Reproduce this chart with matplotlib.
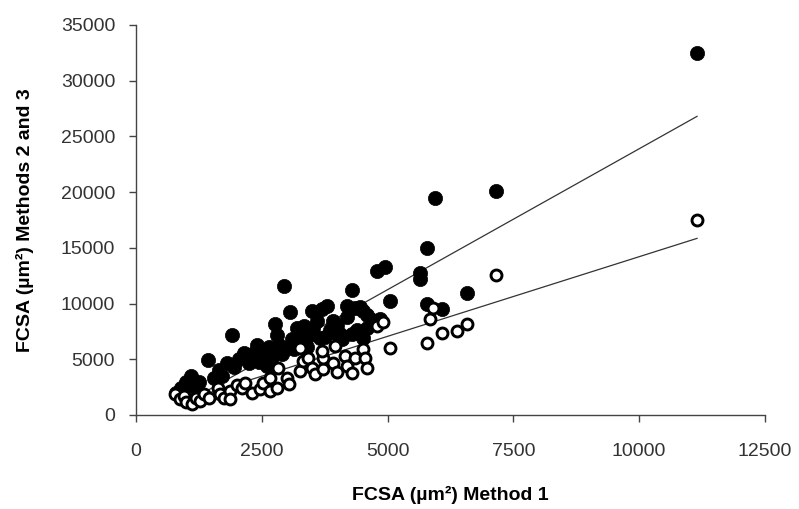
import matplotlib
matplotlib.use("Agg")
import matplotlib.pyplot as plt

# method 1 FCSA vs methods 2 (filled) and 3 (open)
m2_x = [800, 900, 1000, 1100, 1150, 1250, 1425, 1550, 1650, 1800, 1914, 1950,
        2050, 2150, 2250, 2300, 2400, 2450, 2550, 2650, 2700, 2760, 2800, 2850,
        2900, 2950, 3060, 3100, 3190, 3250, 3330, 3350, 3450, 3490, 3520, 3600,
        3650, 3700, 3790, 3850, 3920, 3960, 4000, 4100, 4190, 4200, 4290, 4290,
        4350, 4450, 4520, 4520, 4590, 4600, 4700, 4780, 4850, 4950, 5050, 5650,
        5650, 5780, 5780, 5940, 6075, 6570, 7150, 11150,
        2600, 3000, 3150, 3400, 3750, 4050, 4400, 2350, 1700]
m2_y = [2000, 2400, 3000, 3500, 2500, 3000, 4900, 3300, 4000, 4700, 7200, 4300,
        5000, 5600, 4700, 5300, 6300, 4800, 5500, 6100, 5200, 8150, 7200, 6300,
        5500, 11600, 9200, 6800, 7850, 7400, 8000, 6600, 7200, 9350, 7850, 8400,
        6900, 9500, 9800, 7600, 8450, 7400, 8100, 6800, 9800, 8800, 11200, 7250,
        9600, 9650, 6950, 9350, 9000, 7800, 8500, 12900, 8600, 13300, 10200, 12700,
        12200, 15000, 9950, 19500, 9500, 10950, 20100, 32500,
        4400, 6000, 5900, 6100, 7000, 7300, 7600, 5600, 3500]

m3_x = [775, 874, 950, 1000, 1107, 1200, 1272, 1350, 1450, 1636, 1669, 1750,
        1868, 1868, 2000, 2100, 2166, 2300, 2464, 2530, 2663, 2663, 2796, 2828,
        2995, 3050, 3259, 3325, 3259, 3424, 3491, 3550, 3722, 3722, 3690, 3955,
        3921, 4000, 4153, 4187, 4300, 4352, 4518, 4551, 4585, 4783, 4915, 5047,
        5790, 5843, 5908, 6075, 6373, 6572, 7148, 11150]
m3_y = [1860, 1410, 1700, 1200, 960, 1500, 1260, 1900, 1500, 2460, 1860, 1500,
        2160, 1410, 2700, 2460, 2908, 2000, 2310, 2908, 2160, 3356, 2460, 4256,
        3356, 2800, 3959, 4858, 6055, 5155, 4256, 3700, 4112, 5155, 5758, 6208,
        4706, 3900, 5308, 4408, 3800, 5155, 5911, 5155, 4256, 8007, 8304, 6055,
        6500, 8600, 9560, 7315, 7560, 8160, 12570, 17500]

# trend line end points
trend_x = [1000, 11150]
trend_m2 = [1130, 26800]
trend_m3 = [1340, 15850]

x_ticks = [0, 2500, 5000, 7500, 10000, 12500]
y_ticks = [0, 5000, 10000, 15000, 20000, 25000, 30000, 35000]

plt.rcParams['font.family'] = ['Liberation Sans', 'DejaVu Sans']

fig = plt.figure(figsize=(7.99, 5.09), dpi=100)
ax = fig.add_axes([0.1702, 0.1847, 0.7872, 0.7662])

ax.plot(trend_x, trend_m2, color='#333333', lw=0.9, zorder=1)
ax.plot(trend_x, trend_m3, color='#333333', lw=0.9, zorder=1)
ax.scatter(m2_x, m2_y, s=105, c='black', edgecolors='black', linewidths=0.5, zorder=2)
ax.scatter(m3_x, m3_y, s=62, c='white', edgecolors='black', linewidths=2.1, zorder=3)

ax.set_xlim(0, 12500)
ax.set_ylim(0, 35000)
ax.set_xticks(x_ticks)
ax.set_yticks(y_ticks)
ax.spines['top'].set_visible(False)
ax.spines['right'].set_visible(False)
for side in ['left', 'bottom']:
    ax.spines[side].set_color('#444444')
    ax.spines[side].set_linewidth(1.0)
ax.tick_params(axis='x', direction='out', length=5, width=1, color='#444444',
               labelsize=14, labelcolor='#333333', pad=15)
ax.tick_params(axis='y', direction='out', length=5, width=1, color='#444444',
               labelsize=14, labelcolor='#333333', pad=10)

ax.set_xlabel('FCSA (µm²) Method 1', fontsize=14, fontweight='bold', labelpad=19)
ax.set_ylabel('FCSA (µm²) Methods 2 and 3', fontsize=14, fontweight='bold', labelpad=19)

fig.savefig('out.png', dpi=100)
